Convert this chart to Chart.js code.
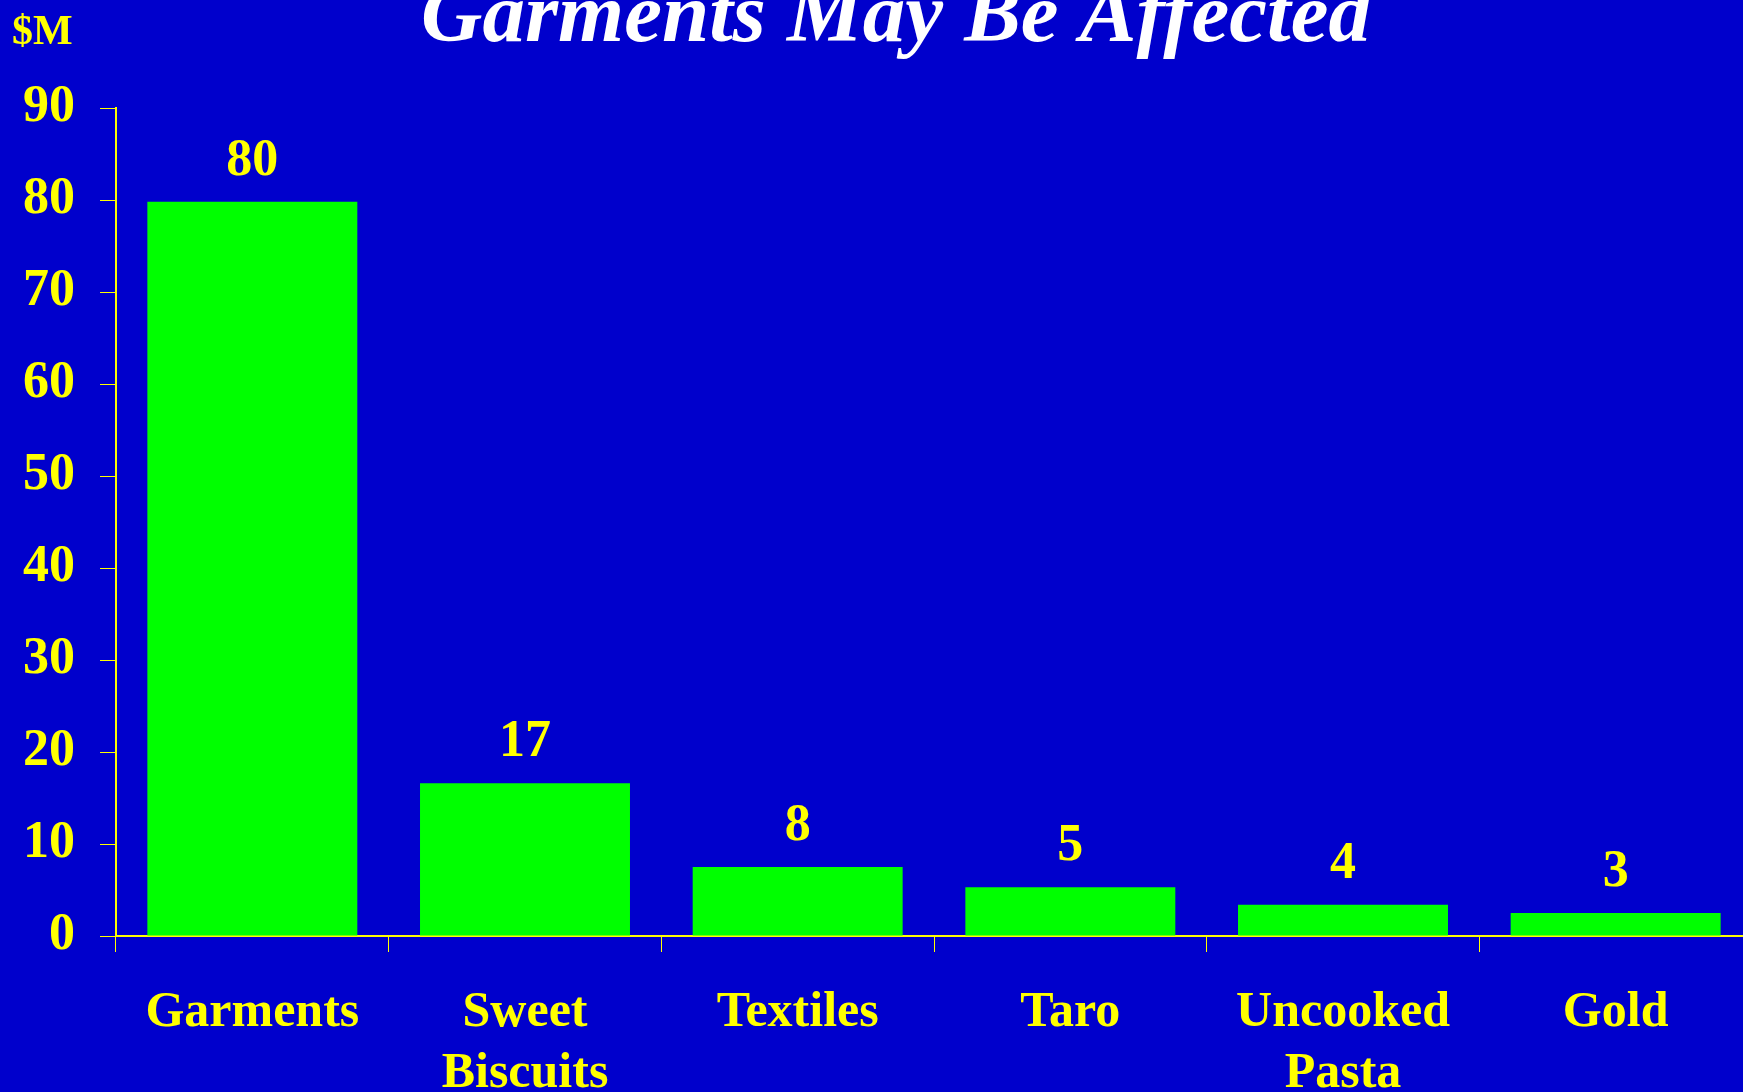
<!DOCTYPE html>
<html>
<head>
<meta charset="utf-8">
<script src="https://cdn.jsdelivr.net/npm/chart.js@4"></script>
<style>
    html, body { margin: 0; padding: 0; background: #0000CC; overflow: hidden; }
    #wrap { position: absolute; left: 0; top: 0; width: 1752px; height: 1145px; }
</style>
</head>
<body>
<div id="wrap"><canvas id="bar-chart"></canvas></div>
<script>
const categories = [["Garments"], ["Sweet", "Biscuits"], ["Textiles"], ["Taro"], ["Uncooked", "Pasta"], ["Gold"]];
const values = [79.8, 16.6, 7.5, 5.3, 3.4, 2.5];
const valueLabels = ["80", "17", "8", "5", "4", "3"];
const yTicks = [0, 10, 20, 30, 40, 50, 60, 70, 80, 90];

const title_text = "Garments May Be Affected";
const unit_text = "$M";

const SERIF = '"Liberation Serif", "Times New Roman", serif';
const YELLOW = "#FFFF00";

// title, unit and the numbers above the bars
const textPlugin = {
    id: "slideText",
    afterDatasetsDraw(chart) {
        const ctx = chart.ctx;
        ctx.save();
        ctx.fillStyle = YELLOW;
        ctx.textAlign = "center";
        ctx.textBaseline = "alphabetic";
        ctx.font = "bold 52px " + SERIF;
        const meta = chart.getDatasetMeta(0);
        meta.data.forEach(function (bar, i) {
            ctx.fillText(valueLabels[i], bar.x, bar.y - 27);
        });

        ctx.textAlign = "left";
        ctx.font = "bold 42px " + SERIF;
        ctx.fillText(unit_text, 12, 44);

        ctx.textAlign = "center";
        ctx.fillStyle = "#FFFFFF";
        ctx.font = "italic bold 85px " + SERIF;
        ctx.fillText(title_text, 896, 41);
        ctx.restore();
    }
};

new Chart(document.getElementById("bar-chart"), {
    type: "bar",
    data: {
        labels: categories,
        datasets: [{
            data: values,
            backgroundColor: "#00FF00",
            borderWidth: 0,
            barPercentage: 0.77,
            categoryPercentage: 1
        }]
    },
    options: {
        responsive: true,
        maintainAspectRatio: false,
        animation: false,
        layout: { padding: { left: -2, top: 108, right: 0, bottom: 9 } },
        plugins: {
            legend: { display: false },
            tooltip: { enabled: false },
            title: { display: false }
        },
        scales: {
            x: {
                grid: {
                    display: true,
                    drawOnChartArea: false,
                    drawTicks: true,
                    tickLength: 16,
                    color: YELLOW,
                    lineWidth: 1
                },
                border: { display: true, color: YELLOW, width: 2 },
                ticks: {
                    color: YELLOW,
                    padding: 31,
                    maxRotation: 0,
                    autoSkip: false,
                    font: { family: SERIF, size: 50, weight: "bold", lineHeight: 1.22 }
                }
            },
            y: {
                min: 0,
                max: 90,
                afterBuildTicks(scale) {
                    scale.ticks = yTicks.map(v => ({ value: v }));
                },
                grid: {
                    display: true,
                    drawOnChartArea: false,
                    drawTicks: true,
                    tickLength: 16,
                    color: YELLOW,
                    lineWidth: 1
                },
                border: { display: true, color: YELLOW, width: 2 },
                ticks: {
                    color: YELLOW,
                    padding: 25,
                    font: { family: SERIF, size: 52, weight: "bold" }
                }
            }
        }
    },
    plugins: [textPlugin]
});
</script>
</body>
</html>
